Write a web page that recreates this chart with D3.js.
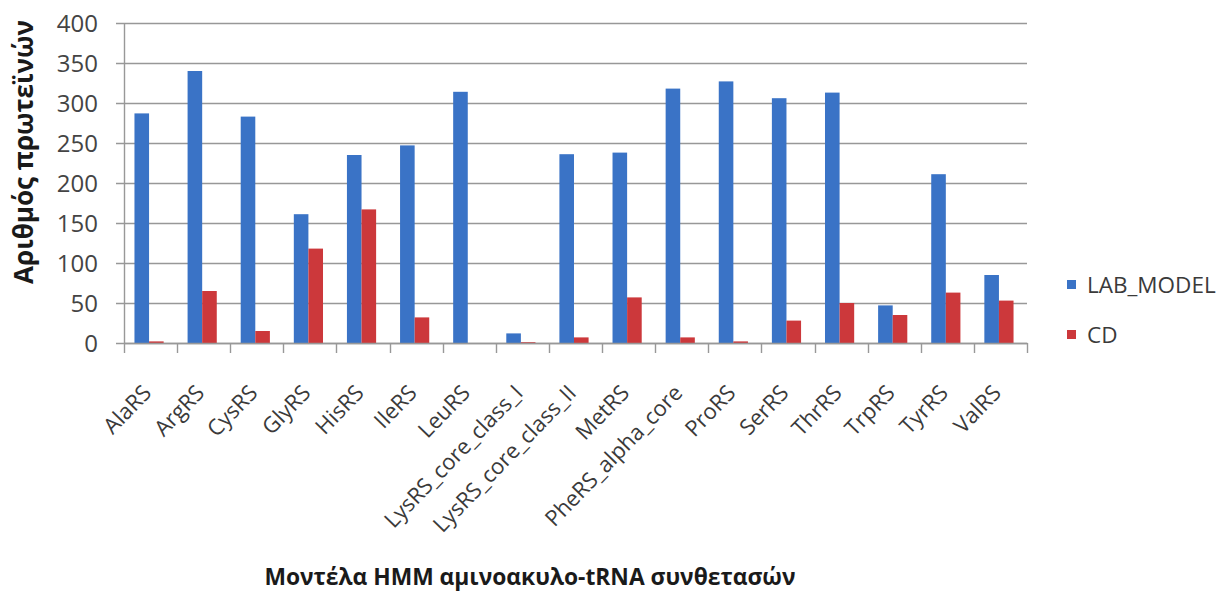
<!DOCTYPE html>
<html>
<head>
<meta charset="utf-8">
<script src="https://cdn.jsdelivr.net/npm/d3@7"></script>
<style>
  html, body { margin: 0; padding: 0; background: #ffffff; }
  svg { display: block; font-family: "Open Sans", "Noto Sans", sans-serif; }
</style>
</head>
<body>
<svg id="chart" width="1225" height="591"></svg>
<script>
// Aminoacyl-tRNA synthetase HMM models and protein counts per dataset
const categories = ["AlaRS", "ArgRS", "CysRS", "GlyRS", "HisRS", "IleRS", "LeuRS",
  "LysRS_core_class_I", "LysRS_core_class_II", "MetRS", "PheRS_alpha_core",
  "ProRS", "SerRS", "ThrRS", "TrpRS", "TyrRS", "ValRS"];
const seriesNames = ["LAB_MODEL", "CD"];
const labModel = [287, 340, 283, 161, 235, 247, 314, 12, 236, 238, 318, 327, 306, 313, 47, 211, 85];
const cdValues = [2, 65, 15, 118, 167, 32, 0, 1, 7, 57, 7, 2, 28, 50, 35, 63, 53];
const yTicks = [0, 50, 100, 150, 200, 250, 300, 350, 400];
const yTitle = "Αριθμός πρωτεϊνών";
const xTitle = "Μοντέλα HMM αμινοακυλο-tRNA συνθετασών";

const colors = { "LAB_MODEL": "#3a73c6", "CD": "#cc383b" };
const rows = categories.map((c, i) => ({ name: c, values: [labModel[i], cdValues[i]] }));

const svg = d3.select("#chart");
const plot = { left: 124, right: 1027, top: 23, bottom: 343 };

const x0 = d3.scaleBand().domain(categories).range([plot.left, plot.right]).padding(0);
const x1 = d3.scaleBand().domain(seriesNames).range([0, x0.bandwidth()]).paddingInner(0).paddingOuter(0.82);
const y = d3.scaleLinear().domain([0, 400]).range([plot.bottom, plot.top]);

// horizontal gridlines
svg.append("g")
  .selectAll("line")
  .data(yTicks)
  .join("line")
  .attr("x1", plot.left - 8)
  .attr("x2", plot.right)
  .attr("y1", d => Math.round(y(d)) + 0.5)
  .attr("y2", d => Math.round(y(d)) + 0.5)
  .attr("stroke", "#989898")
  .attr("stroke-width", 1.4);

// vertical axis line
svg.append("line")
  .attr("x1", plot.left + 0.5).attr("x2", plot.left + 0.5)
  .attr("y1", y(400)).attr("y2", plot.bottom)
  .attr("stroke", "#989898").attr("stroke-width", 1.4);

// bars
const groups = svg.append("g")
  .selectAll("g")
  .data(rows)
  .join("g")
  .attr("transform", d => `translate(${x0(d.name) - 1.5},0)`);

groups.selectAll("rect")
  .data(d => d.values.map((v, i) => ({ key: seriesNames[i], value: v })))
  .join("rect")
  .attr("x", d => x1(d.key))
  .attr("width", x1.bandwidth())
  .attr("y", d => y(d.value))
  .attr("height", d => plot.bottom - y(d.value))
  .attr("fill", d => colors[d.key]);

// x axis baseline and category ticks
const xAxis = d3.axisBottom(x0).tickSize(0).tickFormat("");
svg.append("g")
  .attr("transform", `translate(0,${plot.bottom})`)
  .call(xAxis)
  .call(g => g.select(".domain").attr("stroke", "#989898").attr("stroke-width", 1.4));

const boundaries = categories.map(c => x0(c)).concat([plot.right]);
svg.append("g")
  .selectAll("line")
  .data(boundaries)
  .join("line")
  .attr("x1", d => Math.round(d) + 0.5)
  .attr("x2", d => Math.round(d) + 0.5)
  .attr("y1", plot.bottom)
  .attr("y2", plot.bottom + 10)
  .attr("stroke", "#989898")
  .attr("stroke-width", 1.4);

// y tick labels
svg.append("g")
  .selectAll("text")
  .data(yTicks)
  .join("text")
  .attr("x", 98)
  .attr("y", d => y(d))
  .attr("dy", "0.36em")
  .attr("text-anchor", "end")
  .attr("font-size", 24)
  .attr("fill", "#444")
  .text(d => d);

// rotated category labels
svg.append("g")
  .selectAll("text")
  .data(categories)
  .join("text")
  .attr("text-anchor", "end")
  .attr("font-size", 22)
  .attr("fill", "#3a3a3a")
  .attr("transform", d => `translate(${x0(d) + x0.bandwidth() / 2 + 2},${plot.bottom + 51}) rotate(-46)`)
  .text(d => d);

// axis titles
svg.append("text")
  .attr("transform", `translate(33,152) rotate(-90)`)
  .attr("text-anchor", "middle")
  .attr("font-size", 26)
  .attr("font-weight", "bold")
  .attr("fill", "#1a1a1a")
  .text(yTitle);

svg.append("text")
  .attr("x", 530)
  .attr("y", 585)
  .attr("text-anchor", "middle")
  .attr("font-size", 22.8)
  .attr("font-weight", "bold")
  .attr("fill", "#1a1a1a")
  .text(xTitle);

// legend
const legend = svg.append("g")
  .selectAll("g")
  .data(seriesNames)
  .join("g")
  .attr("transform", (d, i) => `translate(1067,${285 + i * 50})`);

legend.append("rect")
  .attr("x", 0).attr("y", -5)
  .attr("width", 9).attr("height", 9)
  .attr("fill", d => colors[d]);

legend.append("text")
  .attr("x", 20)
  .attr("y", 0)
  .attr("dy", "0.36em")
  .attr("font-size", 22.5)
  .attr("fill", "#3a3a3a")
  .text(d => d);
</script>
</body>
</html>
